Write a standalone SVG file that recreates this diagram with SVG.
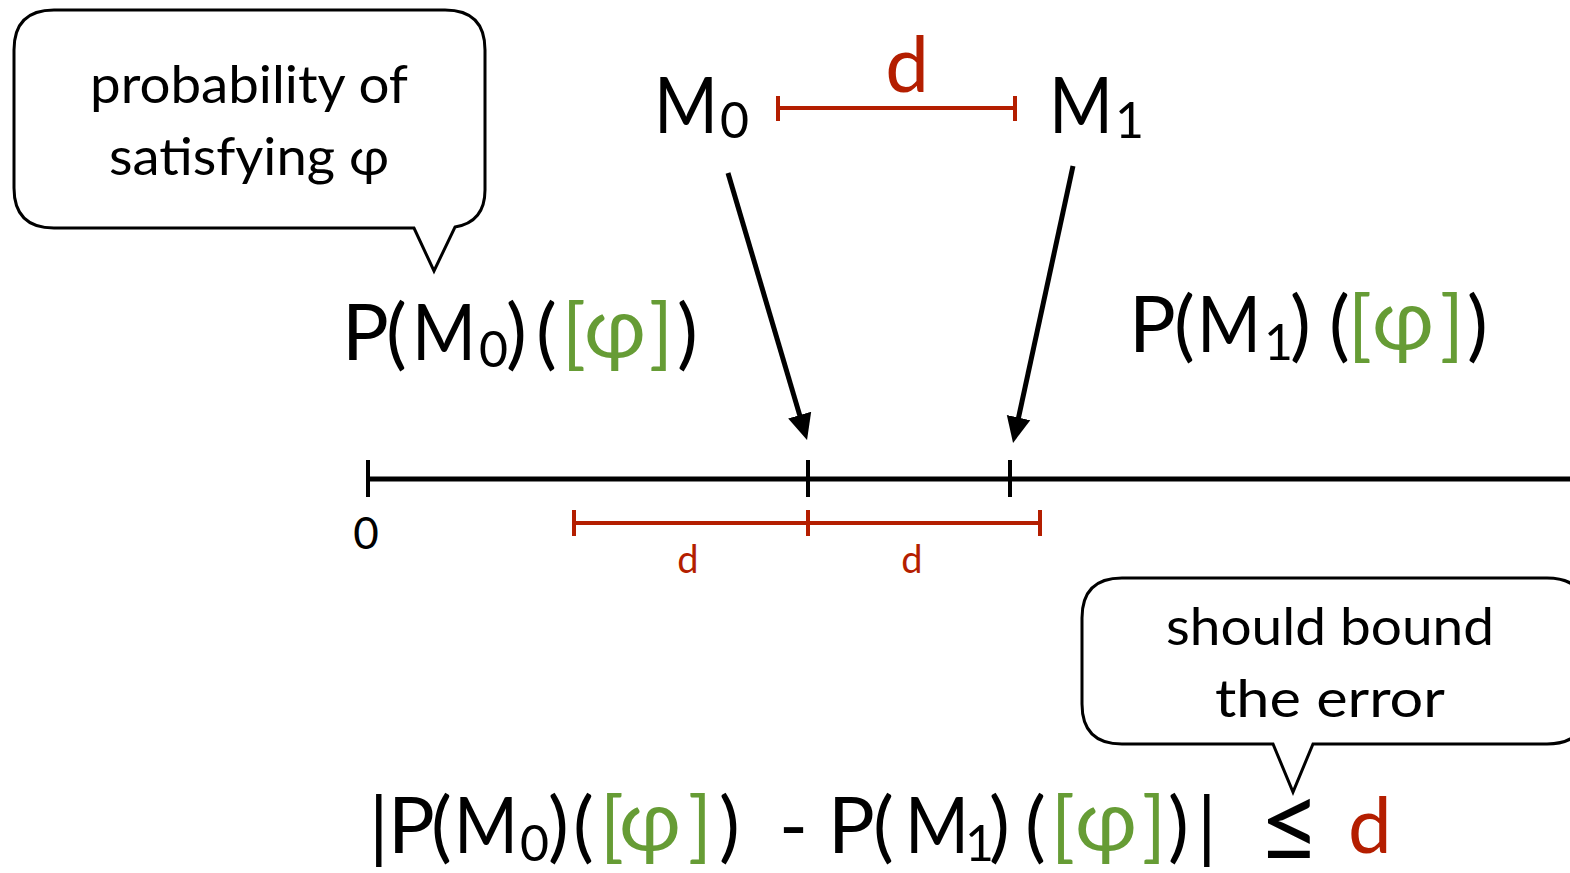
<svg xmlns="http://www.w3.org/2000/svg" width="1570" height="873" viewBox="0 0 1570 873">
<style>
  text { font-family: Lato, "Noto Sans", "DejaVu Sans", sans-serif; fill: #000; }
  .big { font-size: 78px; }
  .sub { font-size: 50px; }
  .phi { font-size: 84px; }
  .bub { font-size: 52px; text-anchor: middle; }
  .red { fill: #b41e00; }
  .grn { fill: #669c35; }
  .bubble { fill: #fff; stroke: #000; stroke-width: 3; stroke-linejoin: miter; }
  .axis { stroke: #000; stroke-width: 5; fill: none; }
  .tick { stroke: #000; stroke-width: 4; }
  .rline { stroke: #b41e00; stroke-width: 4; fill: none; }
  .arrow { stroke: #000; stroke-width: 5; fill: none; marker-end: url(#head); }
</style>
<defs>
  <marker id="head" markerUnits="userSpaceOnUse" markerWidth="30" markerHeight="30" viewBox="0 -15 30 30" refX="4" refY="0" orient="auto">
    <path d="M0,-12 L26,0 L0,12 Z" fill="#000"/>
  </marker>
</defs>

<g id="bubble-probability">
  <path class="bubble" d="M54,10 H445 Q485,10 485,50 V190 Q485,222 455,227 L434,271 L414,228 H54 Q14,228 14,188 V50 Q14,10 54,10 Z"/>
  <text class="bub" x="249" y="103" textLength="318" lengthAdjust="spacingAndGlyphs">probability of</text>
  <text class="bub" x="249" y="175" textLength="280" lengthAdjust="spacingAndGlyphs">satisfying φ</text>
</g>

<g id="bubble-error">
  <path class="bubble" d="M1122,578 H1547 Q1587,578 1587,618 V704 Q1587,744 1547,744 H1313 L1293,792 L1273,744 H1122 Q1082,744 1082,704 V618 Q1082,578 1122,578 Z"/>
  <text class="bub" x="1330" y="645" textLength="328" lengthAdjust="spacingAndGlyphs">should bound</text>
  <text class="bub" x="1330" y="717" textLength="230" lengthAdjust="spacingAndGlyphs">the error</text>
</g>

<g id="model-M0">
  <text class="big" y="133"><tspan x="654" textLength="64" lengthAdjust="spacingAndGlyphs">M</tspan><tspan class="sub" x="720" y="138">0</tspan></text>
</g>

<g id="model-M1">
  <text class="big" y="133"><tspan x="1049" textLength="64" lengthAdjust="spacingAndGlyphs">M</tspan><tspan class="sub" x="1115" y="138">1</tspan></text>
</g>

<g id="distance-top">
  <path class="rline" d="M778,108 H1015 M778,96 V121 M1015,96 V121"/>
  <text class="red" x="907" y="92" style="font-size:78px;text-anchor:middle">d</text>
</g>

<g id="prob-M0">
  <text class="big" y="360"><tspan x="342">P</tspan><tspan x="386">(</tspan><tspan x="412" textLength="64" lengthAdjust="spacingAndGlyphs">M</tspan><tspan class="sub" x="479" y="367">0</tspan><tspan x="506" y="360">)</tspan><tspan x="536">(</tspan><tspan class="grn" x="562">[</tspan><tspan class="grn phi" x="584" y="357">φ</tspan><tspan class="grn" x="649" y="360">]</tspan><tspan x="677">)</tspan></text>
</g>

<g id="prob-M1">
  <text class="big" y="352"><tspan x="1129">P</tspan><tspan x="1174">(</tspan><tspan x="1197" textLength="64" lengthAdjust="spacingAndGlyphs">M</tspan><tspan class="sub" x="1264" y="360">1</tspan><tspan x="1290" y="352">)</tspan><tspan x="1329">(</tspan><tspan class="grn" x="1348">[</tspan><tspan class="grn phi" x="1372" y="349">φ</tspan><tspan class="grn" x="1440" y="352">]</tspan><tspan x="1467">)</tspan></text>
</g>

<g id="number-line">
  <path class="axis" d="M368,479 H1575"/>
  <path class="tick" d="M368,460 V497 M808,460 V497 M1010,460 V497"/>
  <text x="366" y="549" style="font-size:44px;text-anchor:middle">0</text>
  <path class="rline" d="M574,523 H1040 M574,510 V536 M808,510 V536 M1040,510 V536"/>
  <text class="red" x="688" y="573" style="font-size:38px;text-anchor:middle">d</text>
  <text class="red" x="912" y="573" style="font-size:38px;text-anchor:middle">d</text>
</g>

<g id="connectors">
  <line class="arrow" x1="728" y1="173" x2="800.8" y2="418.9"/>
  <line class="arrow" x1="1073" y1="166" x2="1017.7" y2="421.5"/>
</g>

<g id="inequality">
  <text class="big" y="853"><tspan x="369">|</tspan><tspan x="388">P</tspan><tspan x="431">(</tspan><tspan x="454" textLength="64" lengthAdjust="spacingAndGlyphs">M</tspan><tspan class="sub" x="520" y="861">0</tspan><tspan x="548" y="853">)</tspan><tspan x="573">(</tspan><tspan class="grn" x="600">[</tspan><tspan class="grn phi" x="619" y="850">φ</tspan><tspan class="grn" x="688" y="853">]</tspan><tspan x="719">)</tspan><tspan x="779">-</tspan><tspan x="828">P</tspan><tspan x="873">(</tspan><tspan x="905" textLength="64" lengthAdjust="spacingAndGlyphs">M</tspan><tspan class="sub" x="965" y="861">1</tspan><tspan x="989" y="853">)</tspan><tspan x="1025">(</tspan><tspan class="grn" x="1051">[</tspan><tspan class="grn phi" x="1075" y="850">φ</tspan><tspan class="grn" x="1142" y="853">]</tspan><tspan x="1168">)</tspan><tspan x="1197">|</tspan><tspan x="1258" y="862" style="font-size:108px">≤</tspan><tspan class="red" x="1348" y="853">d</tspan></text>
</g>
</svg>
